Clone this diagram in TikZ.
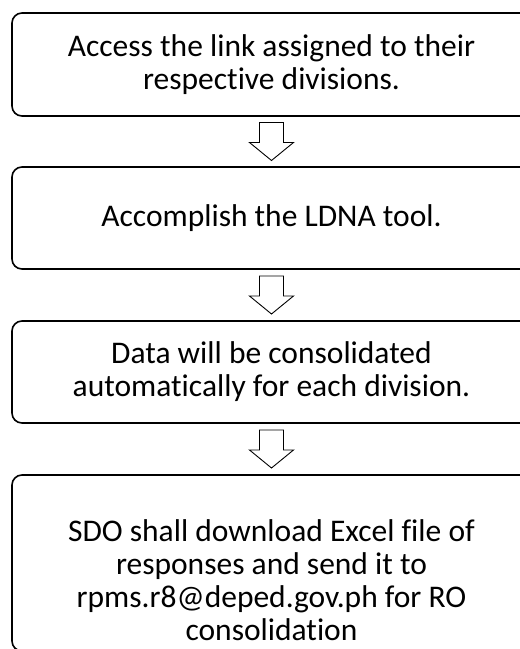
\documentclass[tikz,border=0pt]{standalone}
\usepackage{fontspec}
\setmainfont{Carlito}[Ligatures=NoCommon]
\usetikzlibrary{calc}

\tikzset{
  stepbox/.style={draw, line width=1.6pt, rounded corners=10pt, minimum width=519pt, inner sep=0pt, align=center, font=\fontsize{31.5}{33}\selectfont},
  downarrow/.pic={\draw[line width=0.9pt, line join=miter] (-12,-19) -- (12,-19) -- (12,1) -- (22,1) -- (0,19) -- (-22,1) -- (-12,1) -- cycle;}
}

\begin{document}
\begin{tikzpicture}[x=1pt, y=-1pt]

\clip (0,0) rectangle (520,649);
\fill[white] (0,0) rectangle (520,649);

\node[stepbox, minimum height=103pt] (access) at (271.5,64.5) {Access the link assigned to their\\respective divisions.};
\node[stepbox, minimum height=102pt] (accomplish) at (271.5,218) {Accomplish the LDNA tool.};
\node[stepbox, minimum height=102pt] (consolidate) at (271.5,372) {Data will be consolidated\\automatically for each division.};
\node[stepbox, minimum height=176pt] (download) at (271.5,563) {\rule{0pt}{56pt}SDO shall download Excel file of\\responses and send it to\\rpms.r8@deped.gov.ph for RO\\consolidation};

\pic at ($(access.south)!0.5!(accomplish.north)$) {downarrow};
\pic at ($(accomplish.south)!0.5!(consolidate.north)$) {downarrow};
\pic at ($(consolidate.south)!0.5!(download.north)$) {downarrow};

\end{tikzpicture}
\end{document}
